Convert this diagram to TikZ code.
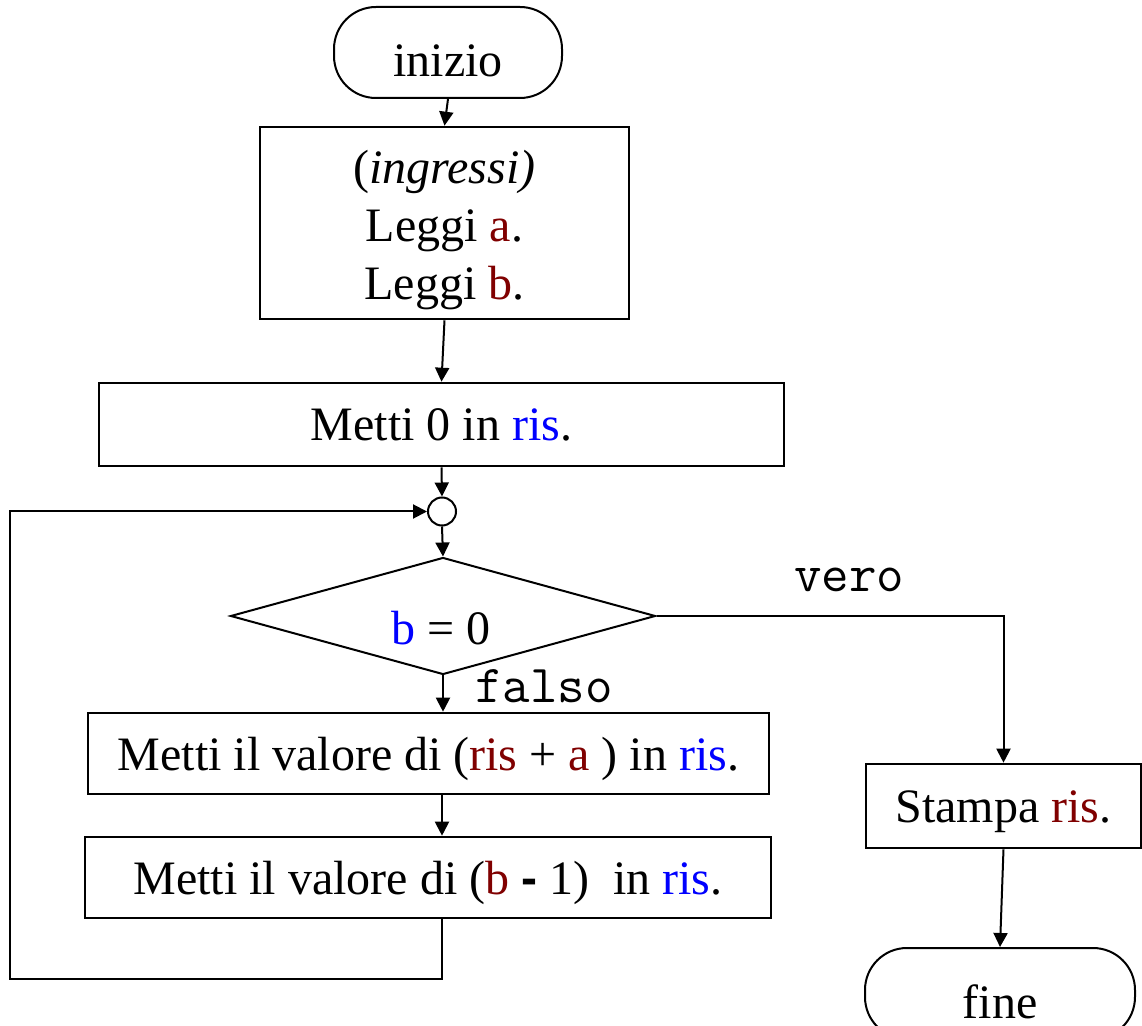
\documentclass[tikz,border=0pt]{standalone}
\usepackage{fontspec}
\setmainfont{Liberation Serif}
\newfontfamily\sanshyph{Liberation Sans}
\usetikzlibrary{shapes.geometric,arrows.meta}
\definecolor{varred}{RGB}{128,0,0}
\definecolor{varblue}{RGB}{0,0,255}
\begin{document}
\begin{tikzpicture}[x=0.5pt,y=-0.5pt,
  font=\fontsize{24}{29}\selectfont,
  box/.style={draw, line width=1.3pt, inner sep=0pt, align=center},
  onerow/.style={text height=16.5pt, text depth=0pt},
  terminal/.style={draw, line width=1pt, rounded corners=21pt, inner sep=0pt,
    minimum height=45.5pt, text height=24.5pt, text depth=0pt},
  flow/.style={line width=1pt, -{Triangle[length=7pt,width=7pt]}},
  branch/.style={font=\ttfamily\fontsize{26.7}{30}\selectfont, anchor=base, inner sep=0pt}
]
\clip (0,0) rectangle (1142,1026);
\fill[white] (0,0) rectangle (1142,1026);

% blocks of the flowchart
\node[terminal, minimum width=114pt] (start) at (448,52.5) {inizio};
\node[box, minimum width=184.5pt, minimum height=96pt] (inputs) at (444.5,223)
  {\rule{0pt}{23.3pt}(\textit{ingressi)}\\Leggi \textcolor{varred}{a}.\\Leggi \textcolor{varred}{b}.};
\node[box, onerow, minimum width=342.5pt, minimum height=41.5pt] (zero) at (441.5,424.5)
  {Metti 0 in \textcolor{varblue}{ris}.};
\node[draw, circle, line width=1pt, minimum size=14pt, inner sep=0pt] (join) at (442,511.5) {};
\node[draw, diamond, line width=1pt, minimum width=212.5pt, minimum height=58.5pt,
  shape aspect=3.6, inner sep=0pt] (test) at (443,616) {};
\node[anchor=base, inner sep=0pt] (testtext) at (441,645) {\textcolor{varblue}{b} = 0};
\node[box, onerow, minimum width=340.5pt, minimum height=40.5pt] (sum) at (428.5,753.5)
  {Metti il valore di (\textcolor{varred}{ris} + \textcolor{varred}{a}\ ) in \textcolor{varblue}{ris}.};
\node[box, onerow, minimum width=343pt, minimum height=40.5pt] (dec) at (428,877.5)
  {Metti il valore di (\textcolor{varred}{b} {\sanshyph\bfseries -} 1)\ \ in \textcolor{varblue}{ris}.};
\node[box, onerow, minimum width=137.5pt, minimum height=42pt] (print) at (1003.5,806)
  {Stampa \textcolor{varred}{ris}.};
\node[terminal, minimum width=135pt] (stop) at (1000,993.5) {fine};

% branch labels
\node[branch] (truelabel) at (849,592) {vero};
\node[branch] (falselabel) at (544,703) {falso};

% connectors
\draw[flow] (start.south) -- (inputs.north);
\draw[flow] (inputs.south) -- (zero.north);
\draw[flow] (zero.south) -- (join.north);
\draw[flow] (join.south) -- (test.north);
\draw[flow] (test.south) -- (test.south |- sum.north);
\draw[flow] (sum.south -| join.south) -- (dec.north -| join.south);
\coordinate (loopcorner) at (10,979);
\draw[flow] (dec.south -| join.south) |- (loopcorner) |- (join.west);
\draw[flow] (test.east) -| (print.north);
\draw[flow] (print.south) -- (stop.north);
\end{tikzpicture}
\end{document}
